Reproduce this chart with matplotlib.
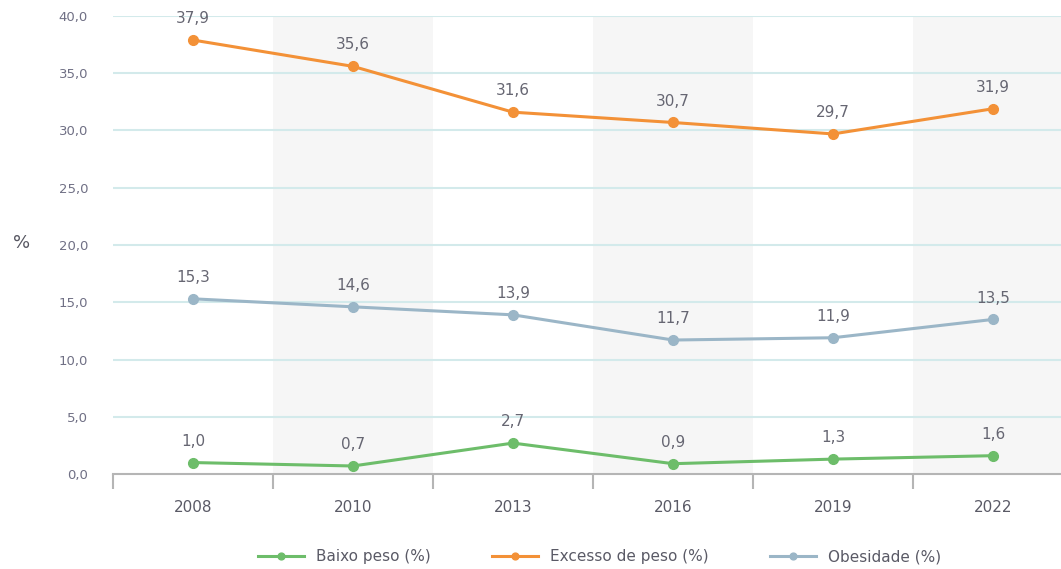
import numpy as np
import matplotlib.pyplot as plt

# Dados
anos = ["2008", "2010", "2013", "2016", "2019", "2022"]
baixo_peso = [1.0, 0.7, 2.7, 0.9, 1.3, 1.6]
excesso_peso = [37.9, 35.6, 31.6, 30.7, 29.7, 31.9]
obesidade = [15.3, 14.6, 13.9, 11.7, 11.9, 13.5]

series = [
    ("Baixo peso (%)", baixo_peso, "#6dbd6a"),
    ("Excesso de peso (%)", excesso_peso, "#f39137"),
    ("Obesidade (%)", obesidade, "#9bb6c7"),
]

fig = plt.figure(figsize=(10.61, 5.69), dpi=100)
ax = fig.add_axes([113 / 1061, 1 - 474 / 569, 1 - 113 / 1061, (474 - 16) / 569])

x = np.arange(len(anos))

# faixas cinzentas alternadas
for i in x:
    if i % 2 == 1:
        ax.axvspan(i - 0.5, i + 0.5, color="#f6f6f6", zorder=0, lw=0)

# grelha
for v in np.arange(5, 45, 5):
    ax.axhline(v, color="#d3eaeb", lw=1.5, zorder=1)

for nome, vals, cor in series:
    ax.plot(x, vals, color=cor, lw=2.2, marker="o", ms=7, label=nome, zorder=3)
    for xi, v in zip(x, vals):
        ax.annotate(f"{v:.1f}".replace(".", ","), (xi, v), xytext=(0, 10),
                    textcoords="offset points", ha="center", va="bottom",
                    fontsize=11, color="#666672", zorder=4)

ax.set_yticks(np.arange(0, 45, 5))
ax.set_yticklabels([f"{v:.1f}".replace(".", ",") for v in np.arange(0, 45, 5)])
ax.set_xticks(x)
ax.set_xticklabels(anos)
ax.set_xticks(np.arange(-0.5, len(anos), 1), minor=True)
ax.set_xlim(-0.5, -0.5 + 948 / 160)
ax.set_ylim(0, 40)

for s in ["top", "right", "left"]:
    ax.spines[s].set_visible(False)
ax.spines["bottom"].set_color("#b5b5b5")
ax.spines["bottom"].set_linewidth(1.5)

ax.tick_params(axis="y", length=0, pad=18, labelsize=9.5, labelcolor="#707085")
ax.tick_params(axis="x", which="major", length=0, pad=19, labelsize=11, labelcolor="#5a5a66")
ax.tick_params(axis="x", which="minor", length=11, width=1.5, color="#b5b5b5")

fig.text(22 / 1061, 1 - 243 / 569, "%", fontsize=13, color="#555560", ha="center", va="center")

leg = fig.legend(loc="center", bbox_to_anchor=(0.565, 1 - 557 / 569), ncol=3,
                 frameon=False, fontsize=11, handlelength=3, columnspacing=4,
                 markerscale=0.7)
for t in leg.get_texts():
    t.set_color("#5a5a66")

fig.savefig("out.png", dpi=100)
